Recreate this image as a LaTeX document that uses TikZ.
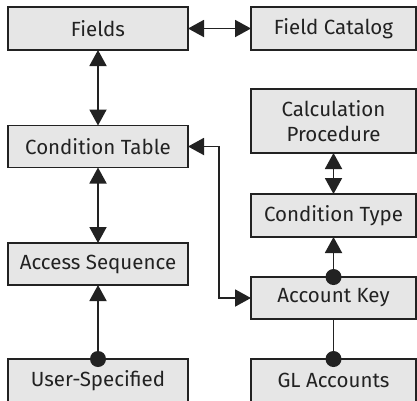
\documentclass[tikz,border=0pt]{standalone}
\usepackage{fontspec}
\setmainfont{Fira Sans}
\usetikzlibrary{arrows.meta}
\definecolor{boxfill}{HTML}{E6E6E6}
\definecolor{ink}{HTML}{222222}
\tikzset{
  x=1pt, y=1pt,
  box/.style={draw=ink, line width=1.2pt, fill=boxfill, text=ink,
    font=\fontsize{20.5}{25}\selectfont, inner sep=0pt, outer sep=0pt,
    align=center},
  lbox/.style={box, minimum width=180pt, minimum height=43pt},
  rbox/.style={box, minimum width=165pt, minimum height=43pt},
  link/.style={draw=ink, line width=1.9pt},
  tip/.style={Triangle[length=16pt,width=17pt]},
  both/.style={link, {Triangle[length=16pt,width=17pt]}-{Triangle[length=16pt,width=17pt]}},
  tohead/.style={link, -{Triangle[length=16pt,width=17pt]}},
  dot/.style={fill=ink}
}
\begin{document}
\begin{tikzpicture}
\useasboundingbox (0,0) rectangle (417,-400);
% left column
\node[lbox] (fields) at (98,-28.5) {Fields};
\node[lbox, minimum height=42pt] (ctable) at (98,-146.5) {Condition Table};
\node[lbox, minimum height=42pt] (access) at (98,-264) {Access Sequence};
\node[lbox] (user) at (98,-380.5) {User-Specified};
% right column
\node[rbox] (catalog) at (333.5,-28.5) {Field Catalog};
\node[rbox, minimum height=64pt] (calc) at (333.5,-121) {Calculation\\Procedure};
\node[rbox] (ctype) at (333.5,-215.5) {Condition Type};
\node[rbox, minimum height=42pt] (acct) at (333.5,-298) {Account Key};
\node[rbox] (gl) at (333.5,-380.5) {GL Accounts};
% connectors
\draw[both] (fields.east) -- (catalog.west);
\draw[both] (fields.south) -- (ctable.north);
\draw[both] (ctable.south) -- (access.north);
\draw[both] (calc.south) -- (ctype.north);
\draw[both] (ctable.east) -- ++(31,0) |- (acct.west);
\draw[tohead] (user.north) -- (access.south);
\draw[tohead] (acct.north) -- (ctype.south);
\draw[link] (acct.south) -- (gl.north);
% attachment dots
\fill[dot] (user.north) circle (8pt);
\fill[dot] (acct.north) circle (8pt);
\fill[dot] (gl.north) circle (8pt);
\end{tikzpicture}
\end{document}
